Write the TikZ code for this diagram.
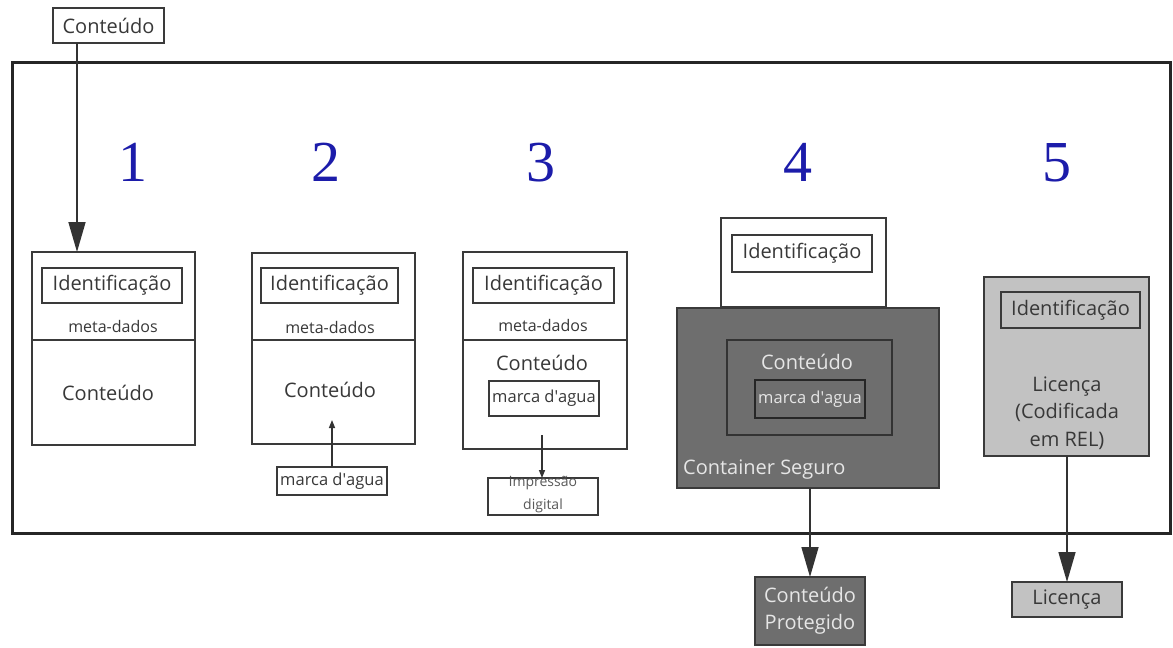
\documentclass[tikz,border=0pt]{standalone}
\usepackage{fontspec}
\setmainfont{Open Sans}
\newfontfamily\numfont{Liberation Serif}
\usetikzlibrary{arrows.meta}
\definecolor{edge}{HTML}{3A3A3A}
\definecolor{darkfill}{HTML}{6E6E6E}
\definecolor{lightfill}{HTML}{C2C2C2}
\definecolor{lighttext}{HTML}{E6E6E6}
\definecolor{stepblue}{HTML}{1C1CAA}
\newcommand{\wmark}{marca d\textquotesingle agua}
\begin{document}
\begin{tikzpicture}[x=1pt,y=-1pt,
  box/.style={draw=edge, line width=1.6pt, inner sep=0pt, outer sep=0pt},
  darkbox/.style={box, fill=darkfill},
  lightbox/.style={box, fill=lightfill},
  lbl/.style={inner sep=0pt, text=black!78, font=\fontsize{20}{22}\selectfont},
  meta/.style={inner sep=0pt, text=black!78, font=\fontsize{16}{18}\selectfont},
  wmtext/.style={inner sep=0pt, text=black!78, font=\fontsize{16.5}{18}\selectfont},
  num/.style={inner sep=0pt, text=stepblue, font=\numfont\fontsize{58}{60}\selectfont},
  bigarrow/.style={draw=black!80, line width=1.6pt, -{Triangle[width=17pt,length=30pt]}},
  smallarrow/.style={draw=black!80, line width=1.4pt, -{Triangle[width=6pt,length=8pt]}}]
\useasboundingbox[fill=white] (0,0) rectangle (1173,648);

% outer frame
\node[draw=black!85, line width=3pt, minimum width=1158pt, minimum height=471pt, inner sep=0pt] (frame) at (591,297.5) {};

% step numbers
\node[num] (n1) at (133,162.5) {1};
\node[num] (n2) at (326,162.5) {2};
\node[num] (n3) at (541,162.5) {3};
\node[num] (n4) at (798,162.5) {4};
\node[num] (n5) at (1057,162.5) {5};

% incoming content
\node[box, minimum width=111pt, minimum height=35pt] (src) at (108.5,25.5) {};
\node[lbl] at (src) {Conteúdo};

% step 1
\node[box, minimum width=163pt, minimum height=88pt] (b1top) at (113.5,296) {};
\node[box, minimum width=163pt, minimum height=105pt] (b1bot) at (113.5,392.5) {};
\node[box, minimum width=140pt, minimum height=35pt] (id1) at (112,285.5) {};
\node[lbl] at (id1) {Identificação};
\node[meta] at (113,326) {meta-dados};
\node[lbl] at (108,393) {Conteúdo};
\coordinate (c1) at (77,0);
\draw[bigarrow] (c1 |- src.south) -- (c1 |- b1top.north);

% step 2
\node[box, minimum width=163pt, minimum height=87pt] (b2top) at (333.5,296.5) {};
\node[box, minimum width=163pt, minimum height=104pt] (b2bot) at (333.5,392) {};
\node[box, minimum width=137pt, minimum height=35pt] (id2) at (329.5,285.5) {};
\node[lbl] at (id2) {Identificação};
\node[meta] at (330,327) {meta-dados};
\node[lbl] at (330,390) {Conteúdo};
\node[box, minimum width=110pt, minimum height=28pt] (wm2) at (332,481) {};
\node[wmtext] at (wm2) {\wmark};
\coordinate (w2) at (332,420);
\draw[smallarrow] (wm2.north) -- (w2);

% step 3
\node[box, minimum width=164pt, minimum height=88pt] (b3top) at (545,296) {};
\node[box, minimum width=164pt, minimum height=109pt] (b3bot) at (545,394.5) {};
\node[box, minimum width=141pt, minimum height=35pt] (id3) at (543.5,285.5) {};
\node[lbl] at (id3) {Identificação};
\node[meta] at (543,325) {meta-dados};
\node[lbl] at (542,363) {Conteúdo};
\node[box, minimum width=110pt, minimum height=35pt] (wm3) at (544,398.5) {};
\node[wmtext] at (wm3) {\wmark};
\node[box, line width=1.3pt, minimum width=110pt, minimum height=37pt] (fp3) at (543,496.5) {};
\node[inner sep=0pt, text=black!65, font=\fontsize{14}{15}\selectfont] at (543,483) {impressão};
\node[inner sep=0pt, text=black!65, font=\fontsize{14}{15}\selectfont] at (543,506) {digital};
\coordinate (f3) at (542,435);
\draw[smallarrow] (f3) -- (f3 |- fp3.north);

% step 4
\node[box, minimum width=165pt, minimum height=89pt] (b4top) at (803.5,262.5) {};
\node[box, minimum width=140pt, minimum height=37pt] (id4) at (802,253.5) {};
\node[lbl] at (id4) {Identificação};
\node[darkbox, minimum width=262pt, minimum height=180pt] (safe) at (808,398) {};
\node[darkbox, draw=black!80, minimum width=165pt, minimum height=95pt] (inner4) at (809.5,387.5) {};
\node[lbl, text=lighttext] at (807,362) {Conteúdo};
\node[darkbox, draw=black!85, minimum width=110pt, minimum height=38pt] (wm4) at (810,399) {};
\node[wmtext, text=lighttext] at (wm4) {\wmark};
\node[lbl, text=lighttext, anchor=west] at (683,470) {Container Seguro};
\node[darkbox, minimum width=110pt, minimum height=68pt] (prot) at (810,611) {};
\node[lbl, text=lighttext, align=center, font=\fontsize{20}{27}\selectfont] at (prot) {Conteúdo\\Protegido};
\coordinate (c4) at (810,0);
\draw[bigarrow] (c4 |- safe.south) -- (c4 |- prot.north);

% step 5
\node[lightbox, minimum width=165pt, minimum height=179pt] (lic5) at (1066.5,366.5) {};
\node[box, minimum width=139pt, minimum height=36pt] (id5) at (1070.5,310) {};
\node[lbl] at (id5) {Identificação};
\node[lbl, align=center, font=\fontsize{20}{27.5}\selectfont] at (1067,413) {Licença\\(Codificada\\em REL)};
\node[lightbox, minimum width=110pt, minimum height=35pt] (lic) at (1067,599.5) {};
\node[lbl] at (lic) {Licença};
\coordinate (c5) at (1067,0);
\draw[bigarrow] (c5 |- lic5.south) -- (c5 |- lic.north);
\end{tikzpicture}
\end{document}
